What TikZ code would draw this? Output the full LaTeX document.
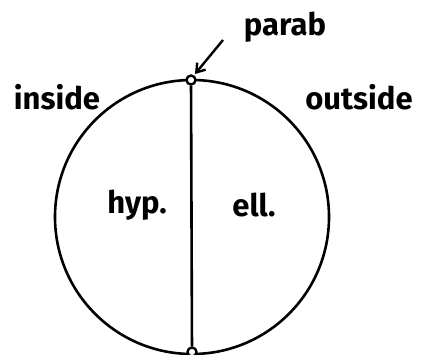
\documentclass[tikz,border=0pt]{standalone}
\usepackage{fontspec}
\setmainfont{Fira Sans}
\usetikzlibrary{arrows.meta}
\begin{document}
\begin{tikzpicture}[x=1pt,y=-1pt,
  lbl/.style={font=\fontsize{31}{33}\selectfont\bfseries, inner sep=0pt, anchor=base},
  dot/.style={circle, draw, line width=2.4pt, minimum size=9pt, inner sep=0pt, fill=white},
  thick line/.style={line width=2.6pt}]
\useasboundingbox (0,0) rectangle (422,354);
\coordinate (c) at (192,217);
\draw[thick line] (c) circle (137);
\node[dot] (top) at (191,80) {};
\node[dot] (bot) at (192,352) {};
\draw[thick line] (top) -- (bot);
\node[lbl] (parab) at (285,35) {parab};
\node[lbl] (inside) at (57,109) {inside};
\node[lbl] (outside) at (359,109) {outside};
\node[lbl] (hyp) at (137,213) {hyp.};
\node[lbl] (ell) at (254,216) {ell.};
\coordinate (arrs) at (223,40);
\draw[line width=2.4pt,-{Straight Barb[length=8pt,width=11pt]}] (arrs) -- ([shift={(4,-6)}]top.center);
\end{tikzpicture}
\end{document}
